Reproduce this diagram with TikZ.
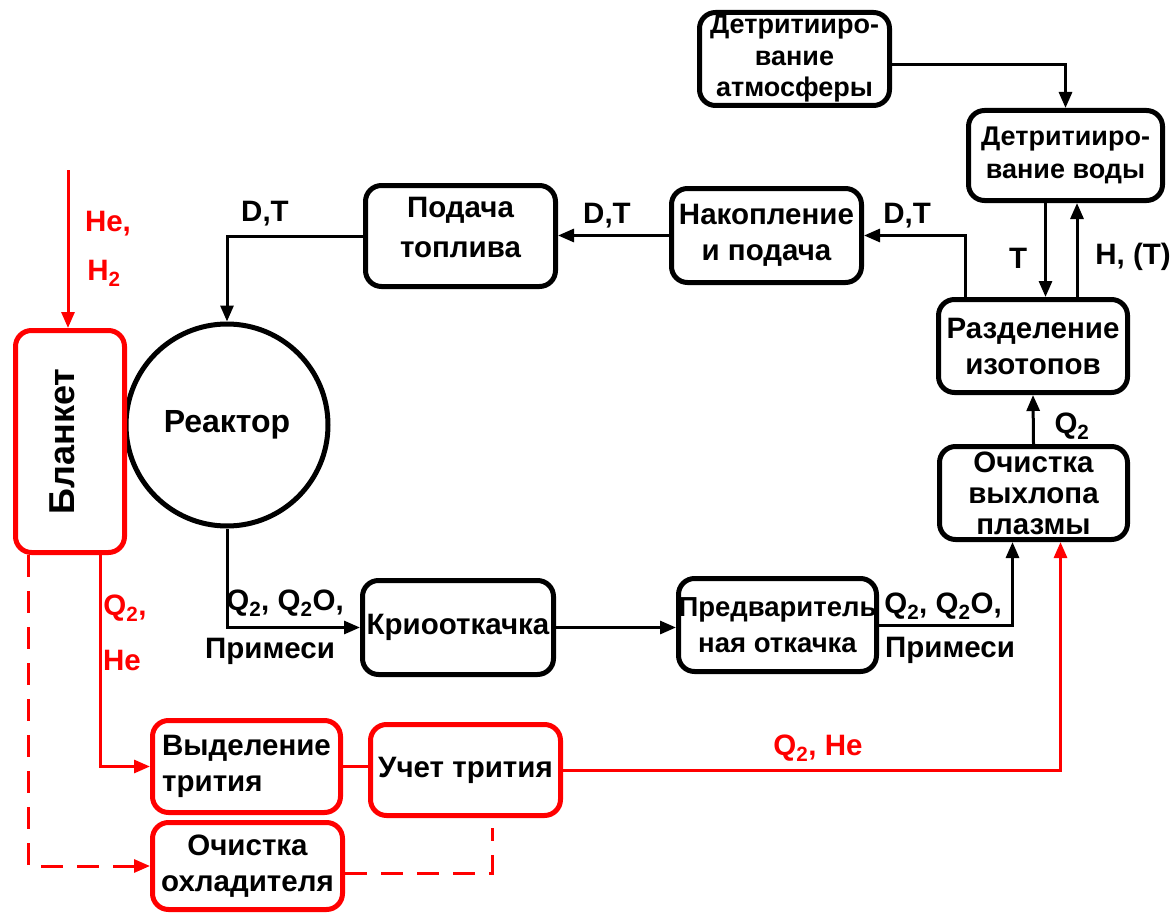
\documentclass[tikz,border=0pt]{standalone}
\usepackage{fontspec}
\setmainfont{Liberation Sans}
\usetikzlibrary{arrows.meta}
\newcommand{\fs}[1]{\fontsize{29.5}{#1}\selectfont\bfseries}
\newcommand{\fss}[1]{\fontsize{27}{#1}\selectfont\bfseries}
\begin{document}
\begin{tikzpicture}[x=1pt,y=-1pt,
  font=\fs{32},
  box/.style={draw=black,line width=5pt,rounded corners=16pt,align=center,inner sep=0pt},
  rbox/.style={box,draw=red},
  con/.style={line width=3pt},
  arr/.style={con,-{Triangle[length=16pt,width=13pt]}},
  rcon/.style={con,draw=red},
  rarr/.style={arr,draw=red},
  rdash/.style={rcon,dash pattern=on 22pt off 14pt},
  lbl/.style={inner sep=0pt},
  rlbl/.style={lbl,text=red}]
\useasboundingbox (0,0) rectangle (1175,915);

% boxes
\node[box,minimum width=190pt,minimum height=93pt,font=\fss{31.5}] (atm) at (794.5,59) {Детритииро-\\вание\\атмосферы};
\node[box,minimum width=194pt,minimum height=90pt,font=\fss{33}] (voda) at (1065.5,155.5) {Детритииро-\\вание воды};
\node[box,minimum width=189pt,minimum height=93pt,font=\fs{36}] (razd) at (1033,346) {Разделение\\изотопов};
\node[box,minimum width=188pt,minimum height=93pt,font=\fs{31}] (ochv) at (1033.5,493) {Очистка\\выхлопа\\плазмы};
\node[box,minimum width=190pt,minimum height=94pt,font=\fs{36}] (nakop) at (766.5,235.5) {Накопление\\и подача};
\node[box,minimum width=190pt,minimum height=101pt,font=\fs{40}] (podacha) at (460.5,236) {\raisebox{9pt}[\height][\depth]{\parbox{180pt}{\centering Подача\\топлива}}};
\node[box,minimum width=191pt,minimum height=94pt] (krio) at (458,627.5) {Криооткачка};
\node[box,minimum width=192pt,minimum height=93pt,font=\fontsize{27.5}{36}\selectfont\bfseries] (pred) at (777.5,625) {Предваритель\\ная откачка};
\node[draw=black,line width=5pt,circle,minimum size=202pt,inner sep=0pt,font=\fontsize{32}{38}\selectfont\bfseries] (reactor) at (227,425) {Реактор};
\node[rbox,minimum width=109pt,minimum height=222pt,font=\fontsize{36}{40}\selectfont\bfseries] (blanket) at (70,441.5) {\hspace*{-16pt}\rotatebox{90}{Бланкет}};
\node[rbox,minimum width=188pt,minimum height=92pt,align=left,font=\fs{36}] (vydel) at (246.5,766.5) {Выделение\\трития};
\node[rbox,minimum width=190pt,minimum height=91pt] (uchet) at (465.5,770) {Учет трития};
\node[rbox,minimum width=190pt,minimum height=87pt,font=\fs{36}] (ochohl) at (247.5,866) {Очистка\\охладителя};

% black connectors
\draw[arr] ([yshift=-6pt]atm.east) -| (voda.north);
\draw[arr] ([xshift=-20pt]voda.south) -- ([xshift=-20pt]voda.south |- razd.north);
\draw[arr] ([xshift=44pt]razd.north) -- ([xshift=44pt]razd.north |- voda.south);
\draw[arr] ([xshift=-68pt]razd.north) |- (nakop.east);
\draw[arr] (nakop.west) -- (nakop.west -| podacha.east);
\draw[arr] (podacha.west) -| (reactor.north);
\draw[arr] (reactor.south) |- (krio.west);
\draw[arr] (krio.east) -- (krio.east -| pred.west);
\draw[arr] (pred.east) -| ([xshift=-21pt]ochv.south);
\draw[arr] (ochv.north) -- (razd.south);

% red connectors
\coordinate (rin) at (68,170);
\draw[rarr] (rin) -- (rin |- blanket.north);
\draw[rarr] ([xshift=30pt]blanket.south) |- (vydel.west);
\draw[rdash,-{Triangle[length=16pt,width=13pt]}] ([xshift=-42pt]blanket.south) |- (ochohl.west);
\draw[rcon] (vydel.east) -- (vydel.east -| uchet.west);
\draw[rarr] (uchet.east) -| ([xshift=27pt]ochv.south);
\draw[rdash,shorten >=10pt] ([yshift=-7pt]ochohl.east) -| ([xshift=27pt]uchet.south);

% labels
\node[lbl] (l1) at (265,214) {D,T};
\node[lbl] (l2) at (607,216) {D,T};
\node[lbl] (l3) at (907,216) {D,T};
\node[lbl] (l4) at (1018,258) {T};
\node[lbl] (l5) at (1133,257) {H, (T)};
\node[lbl] (l6) at (1072,426) {Q\textsubscript{2}};
\node[lbl] (l7) at (285,603) {Q\textsubscript{2}, Q\textsubscript{2}O,};
\node[lbl] (l8) at (270,651) {Примеси};
\node[lbl] (l9) at (943,606) {Q\textsubscript{2}, Q\textsubscript{2}O,};
\node[lbl] (l10) at (950,650) {Примеси};
\node[rlbl] (l11) at (818,748) {Q\textsubscript{2}, He};
\node[rlbl] (l12) at (108,224) {He,};
\node[rlbl] (l13) at (104,273) {H\textsubscript{2}};
\node[rlbl] (l14) at (125,608) {Q\textsubscript{2},};
\node[rlbl] (l15) at (122,660) {He};
\end{tikzpicture}
\end{document}
